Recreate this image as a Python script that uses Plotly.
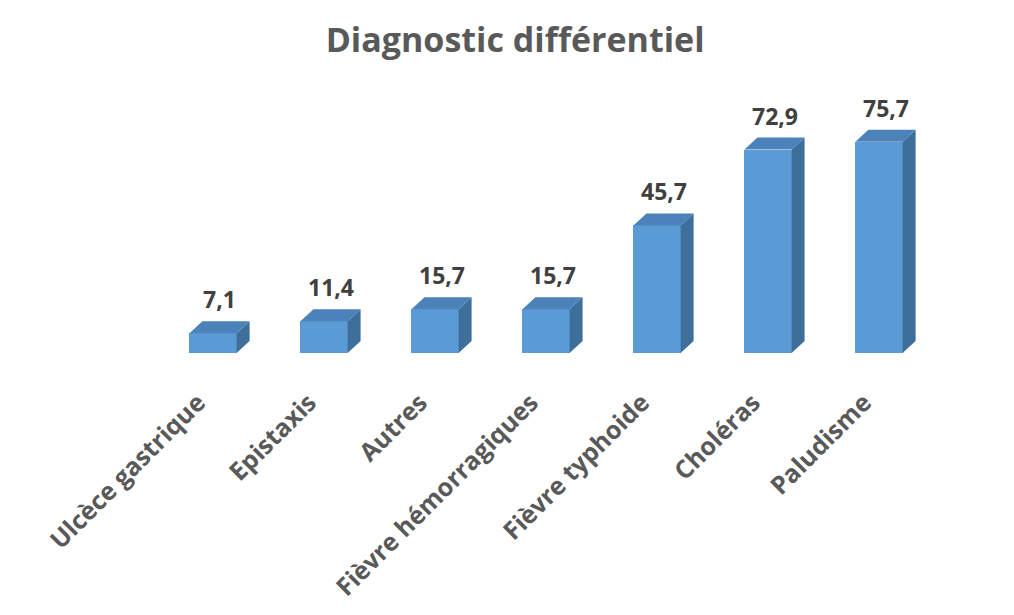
import plotly.graph_objects as go

categories = ["Ulcèce gastrique", "Epistaxis", "Autres", "Fièvre hémorragiques",
              "Fièvre typhoide", "Choléras", "Paludisme"]
values = [7.1, 11.4, 15.7, 15.7, 45.7, 72.9, 75.7]

FRONT = "#5B9BD5"
SIDE = "#3E6E9A"
TOP = "#4B82BA"
TEXT = "#595959"

bar_w = 0.425   # front face width (x units)
dx = 0.117      # depth offset, horizontal
dy = 4.3        # depth offset, vertical (value units)

xs = list(range(len(categories)))

# side and top faces of each pseudo-3D column, built from the values
side_x, side_y, top_x, top_y = [], [], [], []
for i, v in zip(xs, values):
    r = i + bar_w / 2
    l = i - bar_w / 2
    side_x += [r, r + dx, r + dx, r, r, None]
    side_y += [0, dy, v + dy, v, 0, None]
    top_x += [l, l + dx, r + dx, r, l, None]
    top_y += [v, v + dy, v + dy, v, v, None]

fig = go.Figure()
fig.add_trace(go.Scatter(x=side_x, y=side_y, fill="toself", fillcolor=SIDE,
                         mode="lines", line=dict(width=0, color=SIDE),
                         hoverinfo="skip", showlegend=False))
fig.add_trace(go.Bar(x=xs, y=values, width=bar_w, marker=dict(color=FRONT, line=dict(width=0)),
                     showlegend=False))
fig.add_trace(go.Scatter(x=top_x, y=top_y, fill="toself", fillcolor=TOP,
                         mode="lines", line=dict(width=0, color=TOP),
                         hoverinfo="skip", showlegend=False))

for i, v in zip(xs, values):
    fig.add_annotation(x=i + dx / 2, y=v + dy, text=f"{v:.1f}".replace(".", ","),
                       showarrow=False, yanchor="bottom", yshift=4,
                       font=dict(family="Open Sans", size=23, color="#404040", weight="bold"))

fig.update_layout(
    width=1014, height=615,
    margin=dict(l=0, r=0, t=0, b=0),
    paper_bgcolor="white", plot_bgcolor="white",
    title=dict(text="Diagnostic différentiel", x=0.508, xanchor="center", y=0.935, yanchor="middle",
               font=dict(family="Open Sans", size=34, color=TEXT, weight="bold")),
    bargap=0,
    xaxis=dict(range=[-1.919, 7.216], tickmode="array", tickvals=xs, ticktext=categories,
               tickangle=-45, showgrid=False, zeroline=False, showline=False,
               ticks="outside", ticklen=24, tickcolor="rgba(0,0,0,0)",
               ticklabelshift=-15,
               tickfont=dict(family="Open Sans", size=25, color=TEXT, weight="bold")),
    yaxis=dict(range=[0, 126.5], domain=[262 / 615, 1], visible=False, fixedrange=True),
)

fig.write_html("out.html")
